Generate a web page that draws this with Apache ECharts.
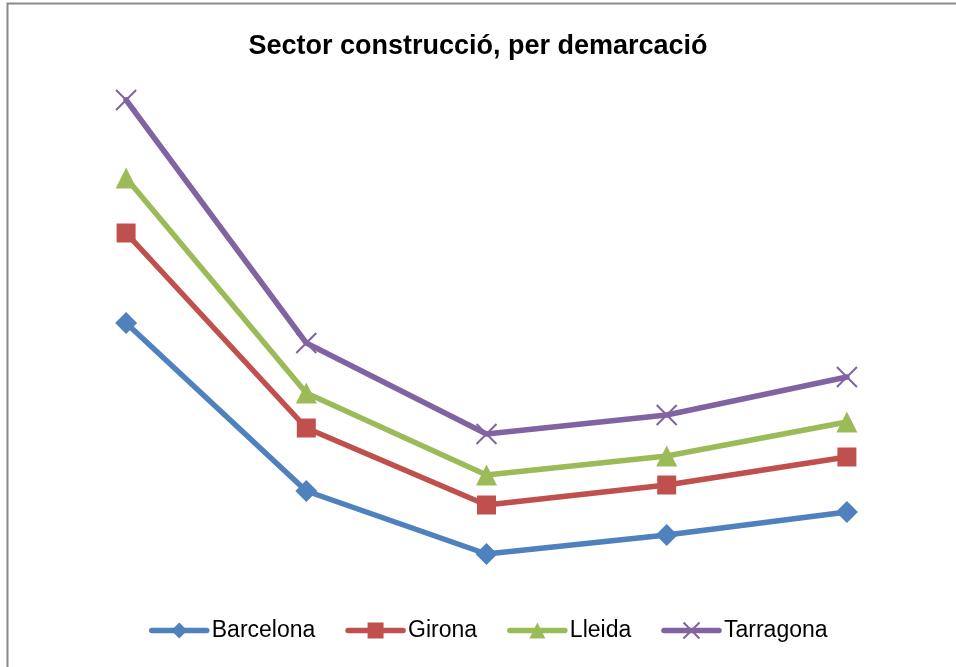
<!DOCTYPE html>
<html>
<head>
<meta charset="utf-8">
<script src="https://cdn.jsdelivr.net/npm/echarts@6/dist/echarts.min.js"></script>
<style>
  html, body { margin: 0; padding: 0; background: #fff; }
  #chart { width: 956px; height: 667px; }
</style>
</head>
<body>
<div id="chart"></div>
<script>
  // categories are not labelled in the original chart
  const categories = ['1', '2', '3', '4', '5'];
  const barcelona = [277, 109, 46, 65, 88];
  const girona = [367, 172, 95, 115, 143];
  const lleida = [422, 207, 125, 144, 178];
  const tarragona = [500, 257, 166, 185, 223];

  const chart = echarts.init(document.getElementById('chart'));

  function mkSeries(name, data, color, symbol, size, extra) {
    return Object.assign({
      name: name,
      type: 'line',
      data: data,
      symbol: symbol,
      symbolSize: size,
      showAllSymbol: true,
      animation: false,
      lineStyle: { color: color, width: 5.5, cap: 'round' },
      itemStyle: { color: color },
    }, extra || {});
  }

  const option = {
    backgroundColor: '#fff',
    title: {
      text: 'Sector construcció, per demarcació',
      left: 'center',
      top: 28,
      textStyle: {
        fontFamily: 'Liberation Sans',
        fontWeight: 'bold',
        fontSize: 27,
        color: '#000',
      },
    },
    legend: {
      bottom: 20,
      left: 144,
      itemWidth: 55,
      itemHeight: 20,
      itemGap: 30,
      lineStyle: { width: 5.5, cap: 'round' },
      textStyle: { fontFamily: 'Liberation Sans', fontSize: 23, color: '#000' },
      data: ['Barcelona', 'Girona', 'Lleida', 'Tarragona'],
    },
    grid: { left: 36, right: 19, top: 40, bottom: 67 },
    xAxis: {
      type: 'category',
      data: categories,
      boundaryGap: true,
      show: false,
    },
    yAxis: {
      type: 'value',
      min: 0,
      max: 560,
      show: false,
    },
    graphic: [{
      type: 'rect',
      shape: { x: 7.5, y: 3.5, width: 1000, height: 1000 },
      style: { fill: 'none', stroke: '#8a8a8a', lineWidth: 2 },
      silent: true,
    }],
    series: [
      mkSeries('Barcelona', barcelona, '#4F81BD', 'diamond', 22),
      mkSeries('Girona', girona, '#C0504D', 'rect', 19),
      mkSeries('Lleida', lleida, '#9BBB59', 'triangle', 21),
      mkSeries('Tarragona', tarragona, '#8064A2', 'path://M0,0L10,10M10,0L0,10', 20, {
        itemStyle: { color: 'none', borderColor: '#8064A2', borderWidth: 2 },
      }),
    ],
  };
  chart.setOption(option);
</script>
</body>
</html>
